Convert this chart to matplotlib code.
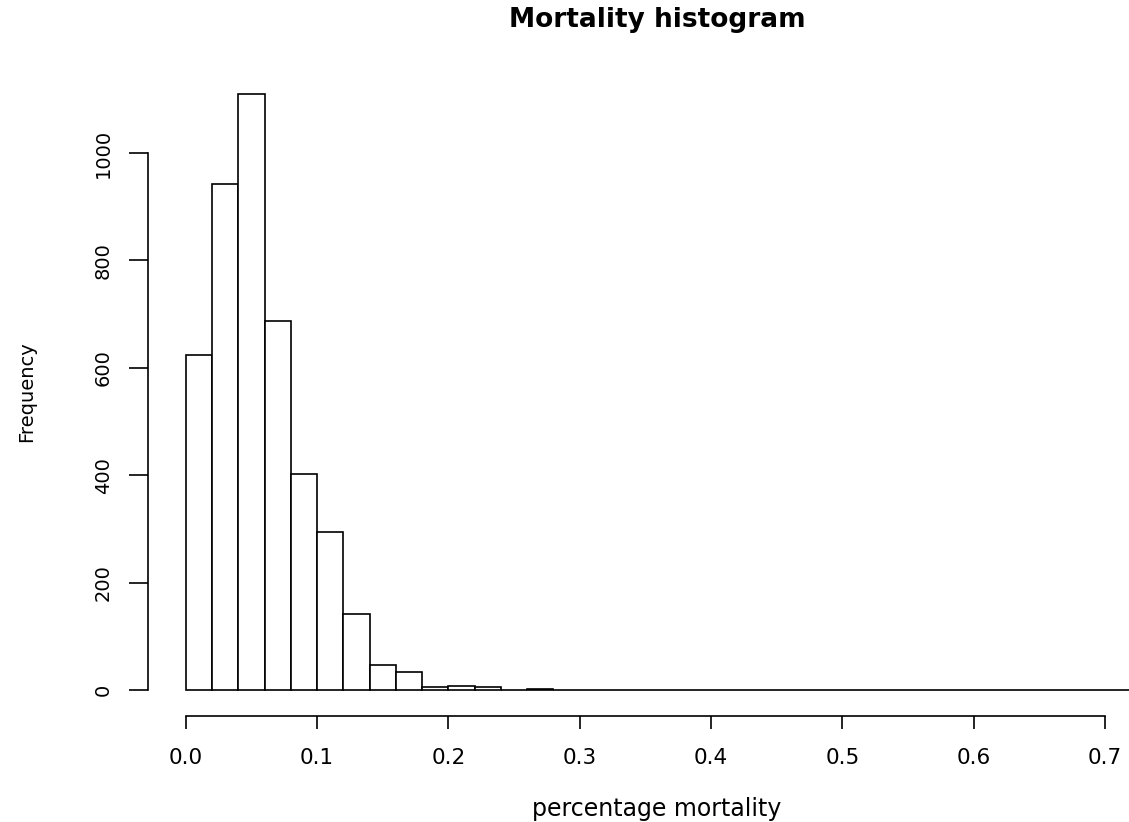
import matplotlib
matplotlib.use('Agg')
import matplotlib.pyplot as plt
import numpy as np

# ---- data ----
bin_edges = [0.00, 0.02, 0.04, 0.06, 0.08, 0.10, 0.12, 0.14, 0.16, 0.18,
             0.20, 0.22, 0.24, 0.26, 0.28, 0.30, 0.32, 0.34, 0.36, 0.38,
             0.40, 0.42, 0.44, 0.46, 0.48, 0.50, 0.52, 0.54, 0.56, 0.58,
             0.60, 0.62, 0.64, 0.66, 0.68, 0.70, 0.72]
counts = [624, 943, 1109, 688, 402, 294, 142, 47, 34, 5,
          8, 5, 0, 2, 0, 0, 0, 0, 0, 0,
          0, 0, 0, 0, 0, 0, 0, 0, 0, 0,
          0, 0, 0, 0, 0, 0]
x_ticks = [0.0, 0.1, 0.2, 0.3, 0.4, 0.5, 0.6, 0.7]
x_tick_labels = ["0.0", "0.1", "0.2", "0.3", "0.4", "0.5", "0.6", "0.7"]
y_ticks = [0, 200, 400, 600, 800, 1000]
y_tick_labels = ["0", "200", "400", "600", "800", "1000"]

title = "Mortality histogram"
x_label = "percentage mortality"
y_label = "Frequency"

# ---- figure ----
W, H = 1129, 822
fig = plt.figure(figsize=(W / 100, H / 100), dpi=100)
ax = fig.add_axes([148 / W, (H - 716) / H, (1169 - 148) / W, (716 - 70) / H])

lefts = np.array(bin_edges[:-1])
widths = np.diff(bin_edges)
ax.bar(lefts, counts, width=widths, align='edge', facecolor='white',
       edgecolor='black', linewidth=1.2)

ax.set_xlim(-0.0288, 0.7488)
ax.set_ylim(-48.4, 1154.6)

for s in ['top', 'right']:
    ax.spines[s].set_visible(False)
ax.spines['bottom'].set_bounds(0, 0.7)
ax.spines['left'].set_bounds(0, 1000)
for s in ['bottom', 'left']:
    ax.spines[s].set_linewidth(1.2)

ax.set_xticks(x_ticks, x_tick_labels)
ax.set_yticks(y_ticks, y_tick_labels)
ax.tick_params(axis='x', length=9, width=1.2, pad=14, labelsize=15.5)
ax.tick_params(axis='y', length=13.5, width=1.2, pad=12, labelsize=14,
               labelrotation=90)
for lbl in ax.get_yticklabels():
    lbl.set_va('center')

fig.text(657 / W, 1 - 27 / H, title, ha='center', va='baseline',
         fontsize=19, fontweight='bold')
fig.text(657 / W, 1 - 816 / H, x_label, ha='center', va='baseline',
         fontsize=17)
fig.text(27 / W, 1 - 392 / H, y_label, ha='center', va='center',
         rotation=90, fontsize=14)

fig.savefig('out.png', dpi=100)
